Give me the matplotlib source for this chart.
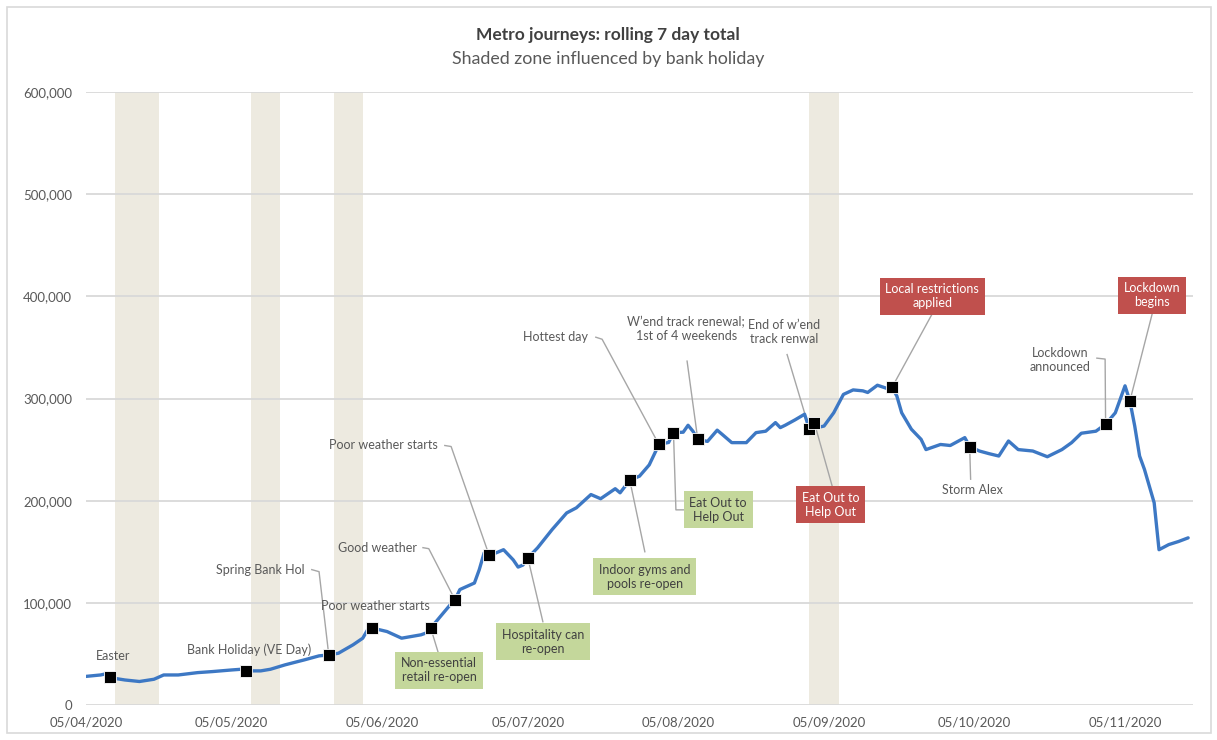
import pandas as pd
import matplotlib.pyplot as plt
import matplotlib.dates as mdates
from matplotlib.ticker import FuncFormatter
from matplotlib.patches import Rectangle

plt.rcParams['font.family'] = ['Lato', 'DejaVu Sans']

START = pd.Timestamp('2020-04-05')

# rolling 7 day total (thousands of journeys), by days since START
day_offset = [0, 3, 4, 5, 6, 8, 11, 14, 16, 19, 23, 26, 30, 32, 33, 36, 38, 41, 45, 48,
              50, 52, 55, 57, 58, 59, 62, 65, 69, 70, 71, 73, 75, 76, 77, 80, 81, 82, 83, 84,
              86, 88, 89, 90, 91, 93, 96, 99, 101, 104, 106, 109, 110, 112, 114, 116, 117, 118, 120, 121,
              123, 124, 125, 126, 128, 130, 131, 133, 136, 138, 140, 142, 143, 144, 146, 148, 149, 150, 151, 152,
              154, 156, 158, 160, 161, 163, 165, 166, 167, 168, 170, 172, 173, 176, 178, 181, 182, 184, 186, 188,
              190, 192, 195, 198, 201, 203, 205, 208, 210, 212, 214, 215, 216, 217, 218, 220, 221, 223, 225, 227]
journeys_k = [28.0, 29.4, 30.4, 27.5, 26.0, 24.5, 23.0, 25.2, 29.4, 29.4, 31.7, 32.7, 34.3, 35.0, 33.4, 33.4, 35.0, 39.3, 44.2, 48.1,
              49.0, 50.7, 58.9, 65.4, 73.6, 75.3, 71.9, 65.4, 68.7, 70.4, 75.3, 86.7, 98.0, 103.0, 113.0, 119.4, 132.5, 148.9, 147.0, 148.0,
              152.0, 142.0, 135.0, 137.0, 144.0, 153.8, 171.7, 188.0, 193.0, 206.0, 201.9, 211.7, 207.7, 220.0, 224.0, 235.0, 245.0, 255.0, 257.0, 266.6,
              267.0, 273.8, 268.0, 260.0, 258.0, 269.0, 265.0, 256.8, 256.8, 266.6, 268.0, 276.4, 271.5, 273.8, 279.0, 284.6, 270.0, 276.4, 272.0, 273.0,
              286.0, 304.0, 308.4, 307.5, 305.9, 313.0, 309.8, 310.8, 302.5, 286.0, 269.9, 260.0, 250.0, 255.0, 254.0, 261.7, 253.0, 248.6, 246.0, 243.7,
              258.4, 250.0, 248.6, 243.0, 250.0, 256.8, 266.0, 268.0, 274.8, 286.0, 312.4, 297.6, 273.0, 243.7, 230.6, 198.0, 152.0, 157.0, 160.0, 163.6]

# periods where the rolling total includes a bank holiday
shade_start = ['2020-04-11', '2020-05-09', '2020-05-26', '2020-09-01']
shade_end = ['2020-04-20', '2020-05-15', '2020-06-01', '2020-09-07']

x_ticks = ['2020-04-05', '2020-05-05', '2020-06-05', '2020-07-05',
           '2020-08-05', '2020-09-05', '2020-10-05', '2020-11-05']

GREEN = '#c4d79b'
RED = '#c0504d'

# text, event day, label x (day), label y (k), align, box colour, connector points
notes = [
    ('Easter', 5, 5.5, 48, 'center', None, []),
    ('Bank Holiday (VE Day)', 33, 33.6, 54, 'center', None, []),
    ('Spring Bank Hol', 50, 45.1, 132.5, 'right', None, [(46.5, 132.5), (48.0, 130.5)]),
    ('Poor weather starts', 59, 59.7, 97, 'center', None, []),
    ('Good weather', 76, 68.2, 154, 'right', None, [(69.4, 154), (70.6, 153)]),
    ('Poor weather starts', 83, 72.5, 254, 'right', None, [(73.9, 254), (75.2, 253)]),
    ('Non-essential\nretail re-open', 71, 72.7, 34, 'center', GREEN, [(72.5, 52)]),
    ('Hospitality can\nre-open', 91, 94.1, 62, 'center', GREEN, [(94.1, 81.5)]),
    ('Indoor gyms and\npools re-open', 112, 115.1, 125.6, 'center', GREEN, [(115.1, 150)]),
    ('Hottest day', 118, 103.4, 360, 'right', None, [(105.0, 360), (106.3, 358)]),
    ('Eat Out to\nHelp Out', 121, 130.2, 191, 'center', GREEN, [(123.4, 191), (121.5, 191)]),
    ('W\u2019end track renewal;\n1st of 4 weekends', 126, 123.6, 368, 'center', None, [(123.8, 336.6)]),
    ('End of w\u2019end\ntrack renwal', 149, 143.8, 365, 'center', None, [(144.4, 343)]),
    ('Eat Out to\nHelp Out', 150, 153.4, 196, 'center', RED, [(153.7, 214)]),
    ('Local restrictions\napplied', 166, 174.3, 400, 'center', RED, [(174.3, 383)]),
    ('Storm Alex', 182, 182.5, 210, 'center', None, [(182.2, 221)]),
    ('Lockdown\nannounced', 210, 200.6, 337.6, 'center', None, [(208.2, 339.5), (209.9, 338.6)]),
    ('Lockdown\nbegins', 215, 219.6, 401, 'center', RED, [(219.6, 383)]),
]


def day(n):
    return START + pd.Timedelta(days=n)


dates = [day(n) for n in day_offset]
journeys = [v * 1000 for v in journeys_k]
lookup = dict(zip(day_offset, journeys))

fig = plt.figure(figsize=(12.17, 7.40), dpi=100)
ax = fig.add_axes([86 / 1217, 1 - 705 / 740, (1193 - 86) / 1217, (705 - 92) / 740])

# light frame round the whole chart
fig.patches.append(Rectangle((7 / 1217, 1 - 733 / 740), 1204 / 1217, 726 / 740,
                             transform=fig.transFigure, fill=False, ec='#d9d9d9', lw=1.2))

for s, e in zip(shade_start, shade_end):
    ax.axvspan(pd.Timestamp(s), pd.Timestamp(e), color='#edeae0', lw=0, zorder=0)

ax.plot(dates, journeys, color='#3d78c4', lw=2.4, zorder=3, solid_capstyle='round')

for text, ev, tx, ty, ha, box, path in notes:
    ex, ey = day(ev), lookup[ev]
    if path:
        xs = [day(p[0]) for p in path] + [ex]
        ys = [p[1] * 1000 for p in path] + [ey]
        ax.plot(xs, ys, color='#a6a6a6', lw=1, zorder=2)
    kw = dict(ha=ha, va='center', fontsize=9, multialignment='center', zorder=5,
              color='#595959')
    if box is not None:
        kw['bbox'] = dict(boxstyle='square,pad=0.45', fc=box, ec='none')
        kw['color'] = 'white' if box == RED else '#404040'
    ax.text(day(tx), ty * 1000, text, **kw)
    ax.plot(ex, ey, marker='s', ms=8, color='black', mec='white', mew=0.6, zorder=4)

ax.set_ylim(0, 600000)
ax.set_xlim(day(0), day(228))
ax.set_yticks(range(0, 600001, 100000))
ax.yaxis.set_major_formatter(FuncFormatter(lambda v, p: f'{int(v):,}'))
ax.set_xticks([pd.Timestamp(t) for t in x_ticks])
ax.xaxis.set_major_formatter(mdates.DateFormatter('%d/%m/%Y'))
ax.grid(axis='y', color='#d9d9d9', lw=1.3)
ax.set_axisbelow(True)
ax.tick_params(length=0, labelsize=9.5, labelcolor='#595959')
ax.tick_params(axis='y', pad=10)
ax.tick_params(axis='x', pad=8)
for sp in ax.spines.values():
    sp.set_visible(False)

fig.text(608 / 1217, 1 - 35 / 740, 'Metro journeys: rolling 7 day total', ha='center', va='center',
         fontsize=12.5, fontweight='bold', color='#404040')
fig.text(608 / 1217, 1 - 59 / 740, 'Shaded zone influenced by bank holiday', ha='center', va='center',
         fontsize=12.8, color='#595959')

fig.savefig('out.png', dpi=100)
